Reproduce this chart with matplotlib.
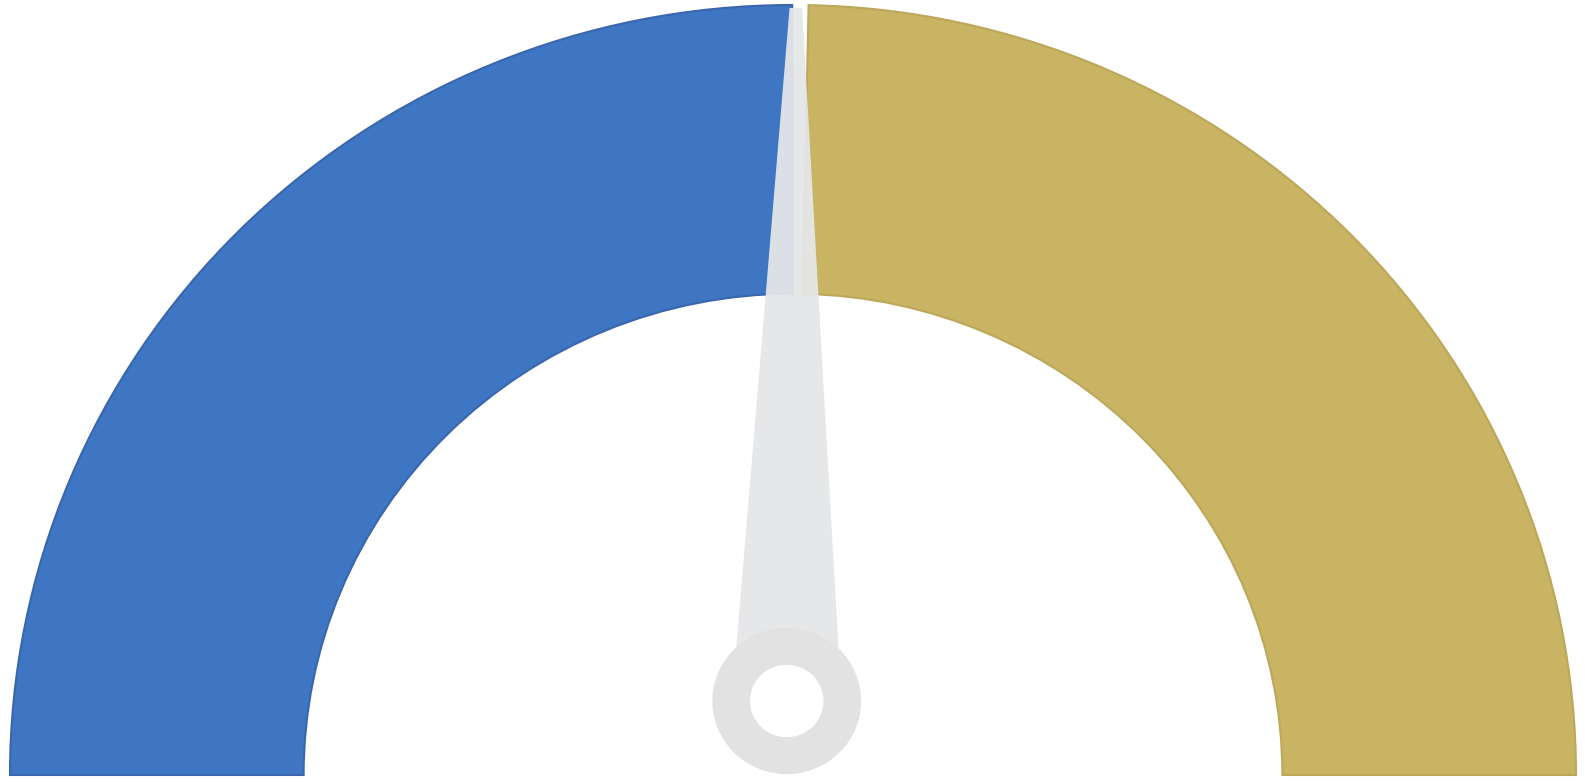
import numpy as np
import matplotlib
matplotlib.use("Agg")
import matplotlib.pyplot as plt
from matplotlib.patches import Wedge, Polygon, Circle

# gauge data
gauge_min = 0
gauge_max = 100
gauge_value = 50.3
segment_colors = ["#3e76c4", "#c8b463"]
segment_edges = ["#3a66ad", "#bca75a"]

fig = plt.figure(figsize=(15.85, 7.82), dpi=100)
ax = fig.add_axes([0, 0, 1, 1])
ax.set_axis_off()

# pixel based layout (arc centre at bottom)
cx_px, cy_px = 793, 775
rx_px, ry_px = 783, 770
ax.set_xlim(-cx_px / rx_px, (1585 - cx_px) / rx_px)
ax.set_ylim(-(782 - cy_px) / ry_px, cy_px / ry_px)

r_in = 0.625
frac = (gauge_value - gauge_min) / (gauge_max - gauge_min)
split = 180 * (1 - frac)
gap = 0.6

# blue = value part, gold = remaining part
ax.add_patch(Wedge((0, 0), 1.0, split + gap, 180, width=1 - r_in,
                   facecolor=segment_colors[0], edgecolor=segment_edges[0], lw=1.5))
ax.add_patch(Wedge((0, 0), 1.0, 0, split - gap, width=1 - r_in,
                   facecolor=segment_colors[1], edgecolor=segment_edges[1], lw=1.5))

# needle
px, py = -0.008, (cy_px - 701) / ry_px
ang = np.deg2rad(180 * (1 - frac) - 0.2)
length = 0.90
hw_base, hw_tip = 0.070, 0.008
d = np.array([np.cos(ang), np.sin(ang)])
n = np.array([-d[1], d[0]])
base = np.array([px, py])
tip = base + d * length
pts = [base + n * hw_base, tip + n * hw_tip, tip - n * hw_tip, base - n * hw_base]
ax.add_patch(Polygon(pts, closed=True, facecolor="#e5e6e8", edgecolor="none",
                     alpha=0.95, zorder=3))

# pivot ring
ax.add_patch(Circle((px, py), 0.095, facecolor="#e2e2e2", edgecolor="none", zorder=4))
ax.add_patch(Circle((px, py), 0.047, facecolor="white", edgecolor="none", zorder=5))

fig.savefig("out.png", dpi=100, facecolor="white")
